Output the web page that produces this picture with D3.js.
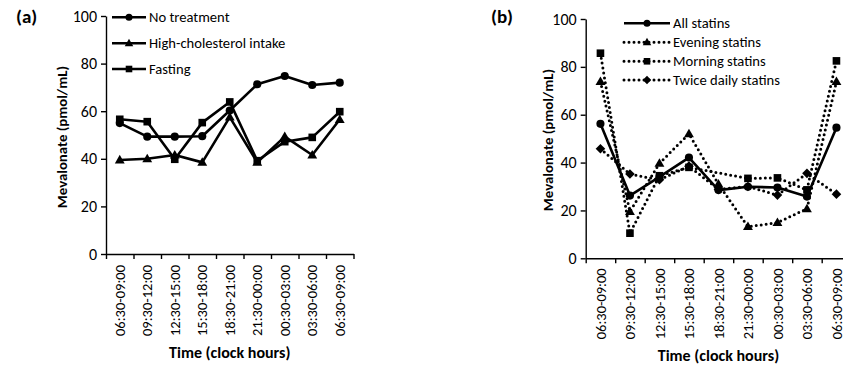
<!DOCTYPE html>
<html>
<head>
<meta charset="utf-8">
<script src="https://cdn.jsdelivr.net/npm/d3@7"></script>
<style>
  html, body { margin: 0; padding: 0; background: #fff; }
  svg { display: block; }
  text { font-family: Carlito, Calibri, Lato, "DejaVu Sans", sans-serif; fill: #000; }
</style>
</head>
<body>
<svg id="chart" width="843" height="368"></svg>
<script>
// ---------------- DATA ----------------
const timeLabels = ["06:30-09:00","09:30-12:00","12:30-15:00","15:30-18:00","18:30-21:00","21:30-00:00","00:30-03:00","03:30-06:00","06:30-09:00"];
const yTickValues = [0, 20, 40, 60, 80, 100];

const seriesNamesA = ["No treatment", "High-cholesterol intake", "Fasting"];
const noTreatment     = [55, 49.3, 49.3, 49.5, 60.3, 71.3, 74.8, 71, 72];
const highCholesterol = [39.5, 40, 41.6, 38.5, 57.5, 38.5, 49.3, 41.6, 56.5];
const fasting         = [56.6, 55.6, 39.8, 55.2, 63.9, 39.2, 47.2, 49, 59.8];

const seriesNamesB = ["All statins", "Evening statins", "Morning statins", "Twice daily statins"];
const allStatins        = [56.2, 26.2, 34, 42.1, 28.5, 29.9, 29.6, 25.8, 54.6];
const eveningStatins    = [73.8, 19.5, 39.7, 52, 31, 13.2, 14.9, 20.7, 73.8];
const morningStatins    = [85.7, 10.5, 34.5, 38, null, 33.4, 33.6, 28.6, 82.5];
const twiceDailyStatins = [45.8, 35.2, 32.8, 38.5, 28.8, 30, 26.4, 35.5, 26.8];

// ---------------- MARKERS ----------------
const sym = {
  circle:   { draw(c, s) { const r = Math.sqrt(s / Math.PI); c.moveTo(r, 0); c.arc(0, 0, r, 0, 2 * Math.PI); } },
  square:   { draw(c, s) { const h = Math.sqrt(s) / 2; c.moveTo(-h, -h); c.lineTo(h, -h); c.lineTo(h, h); c.lineTo(-h, h); c.closePath(); } },
  triangle: { draw(c, s) { const w = Math.sqrt(s * 4 / Math.sqrt(3)); const h = w * Math.sqrt(3) / 2; c.moveTo(0, -h * 0.6); c.lineTo(w / 2, h * 0.4); c.lineTo(-w / 2, h * 0.4); c.closePath(); } },
  diamond:  { draw(c, s) { const r = Math.sqrt(s / 2); c.moveTo(0, -r); c.lineTo(r, 0); c.lineTo(0, r); c.lineTo(-r, 0); c.closePath(); } }
};
const markerSize = { circle: 52, square: 58, triangle: 42, diamond: 46 };

const svg = d3.select("#chart");

function panel(cfg) {
  const g = svg.append("g");
  const n = timeLabels.length;
  const x = d3.scaleBand().domain(d3.range(n)).range([cfg.x0, cfg.x1]).paddingInner(0).paddingOuter(0);
  const xEdges = d3.scaleLinear().domain([0, n]).range([cfg.x0, cfg.x1]);
  const y = d3.scaleLinear().domain([0, 100]).range([cfg.y0, cfg.y1]);
  const cx = i => x(i) + x.bandwidth() / 2;

  // y axis
  const ya = g.append("g").attr("transform", `translate(${cfg.x0},0)`)
    .call(d3.axisLeft(y).tickValues(yTickValues).tickSize(5).tickPadding(4).tickSizeOuter(0));
  ya.select(".domain").attr("stroke", "#000").attr("stroke-width", 1.4);
  ya.selectAll(".tick line").attr("stroke", "#000").attr("stroke-width", 1.4);
  ya.selectAll(".tick text").attr("font-size", 16).attr("font-family", null);

  // x axis: ticks at band boundaries
  const xa = g.append("g").attr("transform", `translate(0,${cfg.y0})`)
    .call(d3.axisBottom(xEdges).tickValues(d3.range(n + 1)).tickFormat("").tickSize(5).tickSizeOuter(0));
  xa.select(".domain").attr("stroke", "#000").attr("stroke-width", 1.4);
  xa.selectAll(".tick line").attr("stroke", "#000").attr("stroke-width", 1.4);

  // x labels (rotated)
  const xl = g.append("g").attr("transform", `translate(0,${cfg.y0})`)
    .call(d3.axisBottom(x).tickFormat(i => timeLabels[i]).tickSize(0).tickPadding(0));
  xl.select(".domain").remove();
  xl.selectAll(".tick text")
    .attr("font-size", 14.5).attr("font-family", null)
    .attr("transform", "rotate(-90)")
    .attr("text-anchor", "end")
    .attr("x", -cfg.labelGap).attr("y", 0).attr("dy", "0.35em");

  // axis titles
  g.append("text").attr("x", (cfg.x0 + cfg.x1) / 2).attr("y", cfg.xTitleY)
    .attr("text-anchor", "middle").attr("font-weight", "bold").attr("font-size", 16)
    .text("Time (clock hours)");
  g.append("text").attr("transform", `translate(${cfg.yTitleX},${cfg.yTitleCY}) rotate(-90)`)
    .attr("text-anchor", "middle").attr("font-weight", "bold").attr("font-size", 14.8)
    .text("Mevalonate (pmol/mL)");

  // panel label
  g.append("text").attr("x", cfg.labelX).attr("y", 23).attr("font-weight", "bold").attr("font-size", 19)
    .text(cfg.label);

  // lines + markers (drawn in drawOrder)
  cfg.drawOrder.forEach(k => {
    const s = cfg.series[k];
    const pts = s.values.map((v, i) => ({ i, v })).filter(d => d.v !== null);
    const line = d3.line().x(d => cx(d.i)).y(d => y(d.v));
    g.append("path").datum(pts).attr("d", line)
      .attr("fill", "none").attr("stroke", "#000")
      .attr("stroke-width", s.dotted ? 3 : 2.6)
      .attr("stroke-linecap", s.dotted ? "round" : "butt")
      .attr("stroke-linejoin", "round")
      .attr("stroke-dasharray", s.dotted ? "0,5" : null);
    g.selectAll(null).data(pts).enter().append("path")
      .attr("transform", d => `translate(${cx(d.i)},${y(d.v)})`)
      .attr("d", d3.symbol().type(sym[s.marker]).size(markerSize[s.marker]))
      .attr("fill", "#000");
  });

  // legend (series order)
  cfg.series.forEach((s, k) => {
    const ly = cfg.legY[k];
    g.append("line").attr("x1", cfg.legX0).attr("x2", cfg.legX1).attr("y1", ly).attr("y2", ly)
      .attr("stroke", "#000").attr("stroke-width", s.dotted ? 3 : 2.6)
      .attr("stroke-linecap", s.dotted ? "round" : "butt")
      .attr("stroke-dasharray", s.dotted ? "0,5" : null);
    g.append("path").attr("transform", `translate(${(cfg.legX0 + cfg.legX1) / 2},${ly})`)
      .attr("d", d3.symbol().type(sym[s.marker]).size(markerSize[s.marker] * 0.75)).attr("fill", "#000");
    g.append("text").attr("x", cfg.legX1 + 3).attr("y", ly).attr("dy", "0.35em")
      .attr("font-size", 14.6).text(s.name);
  });
}

panel({
  label: "(a)", labelX: 16,
  x0: 106, x1: 353.5, y0: 254, y1: 16,
  labelGap: 11, xTitleY: 358, yTitleX: 67, yTitleCY: 137,
  legX0: 112, legX1: 146, legY: [17.3, 43.3, 69],
  series: [
    { name: seriesNamesA[0], values: noTreatment, marker: "circle", dotted: false },
    { name: seriesNamesA[1], values: highCholesterol, marker: "triangle", dotted: false },
    { name: seriesNamesA[2], values: fasting, marker: "square", dotted: false }
  ],
  drawOrder: [0, 1, 2]
});

panel({
  label: "(b)", labelX: 491,
  x0: 585.7, x1: 851.2, y0: 258.3, y1: 19,
  labelGap: 10, xTitleY: 361, yTitleX: 553, yTitleCY: 140,
  legX0: 624, legX1: 670, legY: [23.3, 42.3, 61.3, 80],
  series: [
    { name: seriesNamesB[0], values: allStatins, marker: "circle", dotted: false },
    { name: seriesNamesB[1], values: eveningStatins, marker: "triangle", dotted: true },
    { name: seriesNamesB[2], values: morningStatins, marker: "square", dotted: true },
    { name: seriesNamesB[3], values: twiceDailyStatins, marker: "diamond", dotted: true }
  ],
  drawOrder: [1, 2, 3, 0]
});
</script>
</body>
</html>
